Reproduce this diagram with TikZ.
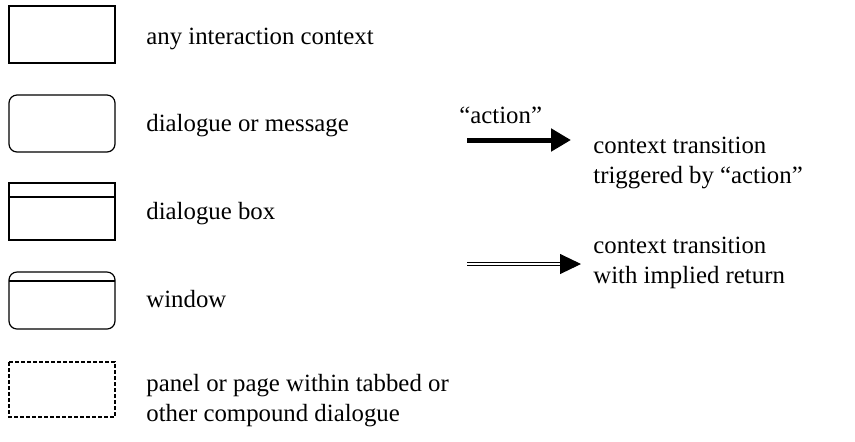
\documentclass[tikz,border=0pt]{standalone}
\usepackage{fontspec}
\setmainfont{Liberation Serif}
\usetikzlibrary{arrows.meta}
\begin{document}
\begin{tikzpicture}[x=0.5pt,y=-0.5pt,
  ctxbox/.style={draw=black,line width=0.6pt},
  roundbox/.style={ctxbox,rounded corners=4pt},
  dashbox/.style={draw=black,line width=0.55pt,dash pattern=on 2pt off 1pt},
  legtext/.style={anchor=base west,inner sep=0pt,font=\fontsize{12.4pt}{15pt}\selectfont,align=left},
  actarrow/.style={line width=2.5pt,-{Triangle[length=10pt,width=11pt]}},
  retarrow/.style={double,double distance=1pt,line width=0.5pt,-{Triangle[length=10.5pt,width=10pt]}}]
  \useasboundingbox (0,0) rectangle (855,441);

  % symbols
  \draw[ctxbox] (9,6) rectangle (115,63);
  \draw[roundbox] (9,95) rectangle (115,152);
  \draw[ctxbox] (9,183) rectangle (115,240);
  \draw[ctxbox] (9,197) -- (115,197);
  \draw[roundbox] (9,272) rectangle (115,329);
  \draw[ctxbox] (9,281) -- (115,281);
  \draw[dashbox] (9,362) rectangle (115,417);

  % legend texts (multi-line nodes sit on the baseline of their last line)
  \node[legtext] (t1) at (146,44) {any interaction context};
  \node[legtext] (t2) at (146,131) {dialogue or message};
  \node[legtext] (t3) at (146,219) {dialogue box};
  \node[legtext] (t4) at (146,307) {window};
  \node[legtext] (t5) at (146,421) {panel or page within tabbed or\\other compound dialogue};

  % transitions
  \coordinate (a1) at (467,140);
  \coordinate (b1) at (571,140);
  \draw[actarrow] (a1) -- (b1);
  \node[legtext] (al) at (459,123) {“action”};
  \node[legtext] (t6) at (593,183) {context transition\\triggered by “action”};

  \coordinate (a2) at (467,264);
  \coordinate (b2) at (581,264);
  \draw[retarrow] (a2) -- (b2);
  \node[legtext] (t7) at (593,283) {context transition\\with implied return};
\end{tikzpicture}
\end{document}
